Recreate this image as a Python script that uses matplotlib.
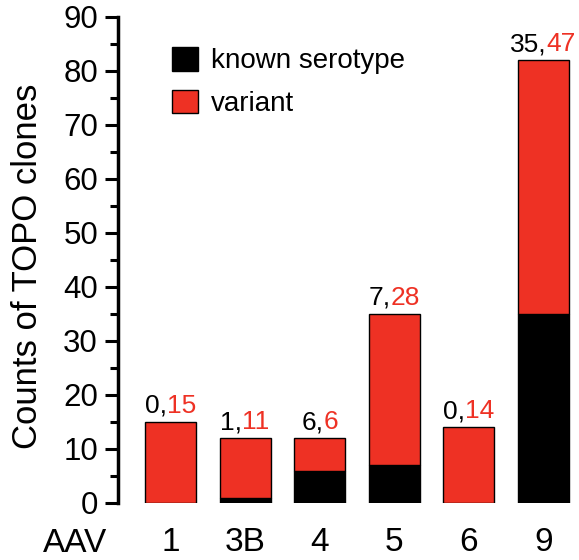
import matplotlib
matplotlib.use('Agg')
import matplotlib.pyplot as plt
from matplotlib.patches import Patch
from matplotlib.ticker import MultipleLocator

categories = ['1', '3B', '4', '5', '6', '9']
known = [0, 1, 6, 7, 0, 35]
variant = [15, 11, 6, 28, 14, 47]
series_labels = ['known serotype', 'variant']

RED = '#EE3124'
plt.rcParams['font.family'] = ['Liberation Sans', 'DejaVu Sans']

W, H = 579, 560
fig = plt.figure(figsize=(W / 100, H / 100), dpi=100)
ax = fig.add_axes([118 / W, 1 - 503 / H, (W - 118) / W, (503 - 17) / H])

x = list(range(len(categories)))
ax.bar(x, known, width=0.685, color='black', edgecolor='black', linewidth=1.0)
tops = [k + v for k, v in zip(known, variant)]
ax.bar(x, variant, bottom=known, width=0.685, color=RED, edgecolor='black', linewidth=1.0)

ax.set_xlim(-0.705, 5.48)
ax.set_ylim(0, 90)
ax.yaxis.set_major_locator(MultipleLocator(10))
ax.yaxis.set_minor_locator(MultipleLocator(5))
ax.set_xticks(x)
ax.set_xticklabels(categories)

for s in ['top', 'right', 'bottom']:
    ax.spines[s].set_visible(False)
ax.spines['left'].set_linewidth(2.5)
ax.tick_params(axis='y', which='major', length=9.4, width=2.2, pad=5, labelsize=22.5)
ax.tick_params(axis='y', which='minor', length=5.8, width=2.2)
ax.tick_params(axis='x', length=0, pad=17, labelsize=24)

texts = []
for i, (k, v, t) in enumerate(zip(known, variant, tops)):
    t1 = ax.annotate(f"{k},", xy=(i, t), xytext=(0, 6.5), textcoords='offset points',
                     ha='left', va='baseline', fontsize=19, color='black')
    t2 = ax.annotate(str(v), xy=(1, 0), xycoords=t1, ha='left', va='bottom',
                     fontsize=19, color=RED)
    texts.append((t1, t2))

fig.canvas.draw()
r = fig.canvas.get_renderer()
for t1, t2 in texts:
    w = t1.get_window_extent(r).width + t2.get_window_extent(r).width
    t1.xyann = (-w / 2 * 72 / 100, 6.5)

handles = [Patch(facecolor='black', edgecolor='black'), Patch(facecolor=RED, edgecolor='black')]
ax.legend(handles, series_labels, loc='upper left', bbox_to_anchor=(172 / W, 1 - 47 / H),
          bbox_transform=fig.transFigure, frameon=False, fontsize=20,
          handlelength=0.93, handleheight=0.93, handletextpad=0.47,
          labelspacing=0.55, borderpad=0, borderaxespad=0)

fig.text(28 / W, 1 - 266.5 / H, 'Counts of TOPO clones', rotation=90, ha='center', va='center', fontsize=25)
fig.text(43 / W, 1 - 552 / H, 'AAV', ha='left', va='baseline', fontsize=24)

fig.savefig('out.png', dpi=100)
